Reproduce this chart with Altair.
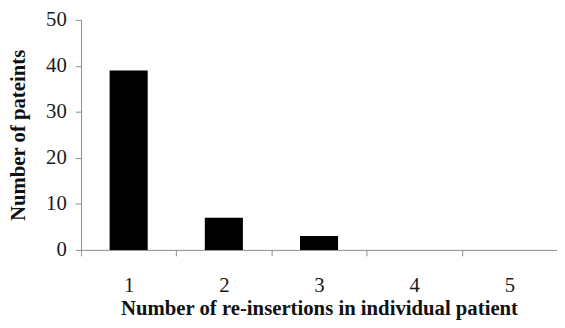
import altair as alt
import pandas as pd

categories = ["1", "2", "3", "4", "5"]
counts = [39, 7, 3, 0, 0]

df = pd.DataFrame({"reinsertions": categories, "patients": counts})

chart = alt.Chart(df).mark_bar(
    width=alt.RelativeBandSize(0.4), color="black"
).encode(
    x=alt.X("reinsertions:O", sort=categories,
            scale=alt.Scale(paddingInner=0, paddingOuter=0),
            axis=alt.Axis(title="Number of re-insertions in individual patient",
                          labelAngle=0, tickBand="extent", labelPadding=19,
                          titlePadding=2)),
    y=alt.Y("patients:Q", scale=alt.Scale(domain=[0, 50]),
            axis=alt.Axis(title="Number of pateints", values=[0, 10, 20, 30, 40, 50],
                          labelPadding=9, titlePadding=17)),
).properties(
    width=482, height=233,
    autosize=alt.AutoSizeParams(type="none"),
    padding={"left": 74, "top": 10, "right": 0, "bottom": 69},
).configure_view(stroke=None).configure_axis(
    grid=False,
    domainColor="#8c8c8c", tickColor="#8c8c8c", tickSize=6,
    labelFont="Liberation Serif", labelFontSize=21, labelColor="#1a1a1a",
    titleFont="Liberation Serif", titleFontSize=21, titleFontWeight="bold",
    titleColor="#111",
)

chart.save("out.html", embed_options={"renderer": "svg", "actions": False})
